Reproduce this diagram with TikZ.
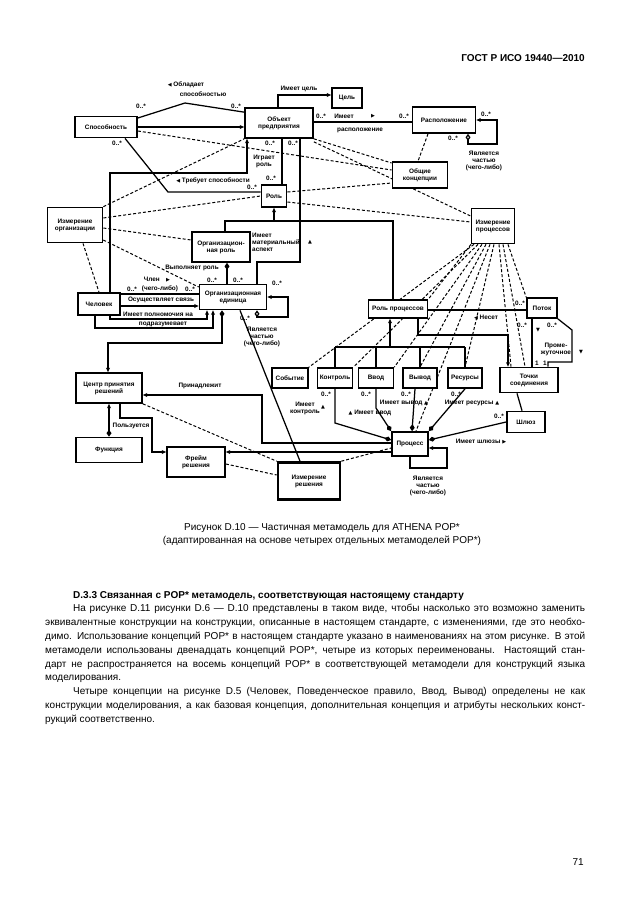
\documentclass[tikz,border=0pt]{standalone}
\usepackage{fontspec}
\setmainfont{Liberation Sans}
\newfontfamily\symf{DejaVu Sans}
\usetikzlibrary{arrows.meta}
\pgfdeclarelayer{bg}
\pgfsetlayers{bg,main}

\newcommand\dfont{\fontsize{6.4}{7}\selectfont\bfseries}
\newcommand\bodyfont{\fontsize{10}{12}\selectfont}
\newcommand\dirL{{\symf\fontsize{5}{5}\selectfont ◀}}
\newcommand\dirR{{\symf\fontsize{5}{5}\selectfont ▶}}
\newcommand\dirU{{\symf\fontsize{5}{5}\selectfont ▲}}
\newcommand\dirD{{\symf\fontsize{5}{5}\selectfont ▼}}
\newcommand\fullline[2]{\makebox[#1][s]{#2}}

\tikzset{
  cls/.style={draw, line width=1.7pt, fill=white, align=center, inner sep=1pt, font=\dfont},
  ln/.style={line width=1.25pt},
  dl/.style={line width=1pt, dash pattern=on 3pt off 2pt},
  lbl/.style={font=\dfont, inner sep=0pt, align=center},
  txt/.style={font=\bodyfont, inner sep=0pt},
  >={Stealth[length=4.5pt,width=4pt]},
  dm/.tip={Diamond[length=7pt,width=5pt]},
  odm/.tip={Diamond[length=7pt,width=5pt,fill=white]}
}

\begin{document}
\begin{tikzpicture}[x=1pt,y=-1pt]
\useasboundingbox (0,0) rectangle (630,913);

\node[anchor=base east,inner sep=0pt,font=\bfseries\fontsize{10}{12}\selectfont] (head) at (585,61) {ГОСТ Р ИСО 19440—2010};

% classes
\node[cls,minimum width=62pt,minimum height=21pt] (cap) at (106,127) {Способность};
\node[cls,minimum width=68pt,minimum height=30pt] (obj) at (279,123) {Объект\\предприятия};
\node[cls,minimum width=30pt,minimum height=20pt] (goal) at (347,98) {Цель};
\node[cls,minimum width=63pt,minimum height=26pt] (loc) at (444,120) {Расположение};
\node[cls,minimum width=55pt,minimum height=26pt] (gen) at (420,175) {Общие\\концепции};
\node[cls,minimum width=25pt,minimum height=22pt] (role) at (274,196) {Роль};
\node[cls,minimum width=55pt,minimum height=35pt] (orgdim) at (75,225) {Измерение\\организации};
\node[cls,minimum width=58pt,minimum height=30pt] (orgrole) at (221,247) {Организацион-\\ная роль};
\node[cls,minimum width=67pt,minimum height=25pt] (orgunit) at (233,297) {Организационная\\единица};
\node[cls,minimum width=42pt,minimum height=22pt] (person) at (99,304) {Человек};
\node[cls,minimum width=43pt,minimum height=35pt] (procdim) at (493,226) {Измерение\\процессов};
\node[cls,minimum width=59pt,minimum height=18pt] (prole) at (398,309) {Роль процессов};
\node[cls,minimum width=30pt,minimum height=20pt] (flow) at (542,308) {Поток};
\node[cls,minimum width=66pt,minimum height=30pt] (dmc) at (109,388) {Центр принятия\\решений};
\node[cls,minimum width=66pt,minimum height=25pt] (func) at (109,450) {Функция};
\node[cls,minimum width=58pt,minimum height=30pt] (frame) at (196,462) {Фрейм\\решения};
\node[cls,line width=2.6pt,minimum width=62pt,minimum height=37pt] (decdim) at (309,481) {Измерение\\решения};
\node[cls,minimum width=36pt,minimum height=20pt] (event) at (290,378) {Событие};
\node[cls,minimum width=35pt,minimum height=20pt] (ctrl) at (335,378) {Контроль};
\node[cls,minimum width=35pt,minimum height=20pt] (inp) at (376,378) {Ввод};
\node[cls,minimum width=34pt,minimum height=20pt] (outp) at (420,378) {Вывод};
\node[cls,minimum width=34pt,minimum height=20pt] (res) at (465,378) {Ресурсы};
\node[cls,minimum width=58pt,minimum height=25pt] (conn) at (529,380) {Точки\\соединения};
\node[cls,minimum width=38pt,minimum height=21pt] (port) at (526,422) {Шлюз};
\node[cls,minimum width=36pt,minimum height=24pt] (proc) at (410,444) {Процесс};

\begin{pgfonlayer}{bg}
\fill[white] (0,0) rectangle (630,913);
% enterprise object
\coordinate (capk) at (185,103);
\draw[ln] ([yshift=9pt]cap.east) -- (capk) -- ([yshift=-5pt]obj.north west);
\draw[ln,->] (cap.east) -- (obj.west |- cap.east);
\draw[dl] ([yshift=-4pt]cap.east) -- ([yshift=5pt]gen.west);
\draw[dl] (orgdim.north east) -- (obj.south west);
\coordinate (reqk) at (168,192);
\draw[ln] ([xshift=19pt]cap.south) -- (reqk) -- (role.west |- reqk);
\coordinate (gc) at (278,95);
\draw[ln,->] (obj.north -| gc) -- (gc) -- (goal.west |- gc);
\coordinate (lc) at (360,122);
\draw[ln] (obj.east |- lc) -- (loc.west |- lc);
\coordinate (ll1) at (497,120);
\coordinate (ll2) at (497,144);
\coordinate (ll3) at (468,144);
\draw[ln,<-odm] (loc.east |- ll1) -- (ll1) -- (ll2) -- (ll3) -- (loc.south -| ll3);
\draw[dl] ([xshift=-16pt]loc.south) -- ([xshift=-2pt]gen.north);
\draw[dl] (obj.south east) -- ([yshift=12pt]gen.west);
\draw[dl] ([yshift=-3pt]obj.south east) -- ([yshift=10pt]procdim.west);
\draw[dl] ([yshift=4pt]role.east) -- ([yshift=-8pt]gen.west);
\draw[dl] ([yshift=-6pt]role.east) -- ([yshift=4pt]procdim.west);

% organisation
\draw[dl] ([yshift=7pt]orgdim.east) -- (role.west);
\draw[dl] ([yshift=-3pt]orgdim.east) -- ([yshift=7pt]orgrole.west);
\draw[dl] ([yshift=-15pt]orgdim.east) -- ([yshift=10pt]orgunit.west);
\draw[dl] ([xshift=8pt]orgdim.south) -- (person.north);
\coordinate (ra) at (247,173);
\coordinate (rb) at (110,173);
\coordinate (rc) at (110,319);
\coordinate (rd) at (207,319);
\draw[ln,<->] (obj.south -| ra) -- (ra) -- (rb) -- (rc) -- (rd) -- (orgunit.south -| rd);
\coordinate (pa) at (95,328);
\coordinate (pb) at (213,328);
\draw[ln,->] (person.south -| pa) -- (pa) -- (pb) -- (orgunit.south -| pb);
\coordinate (m1) at (160,294);
\coordinate (m2) at (160,306);
\draw[ln] (person.east |- m1) -- (orgunit.west |- m1);
\draw[ln,->] (person.east |- m2) -- (orgunit.west |- m2);

% roles
\coordinate (rp) at (282,160);
\draw[ln] (obj.south -| rp) -- (role.north -| rp);
\coordinate (rt) at (274,221);
\coordinate (tl) at (225,221);
\coordinate (tr) at (393,221);
\draw[ln,<-] (role.south) -- (rt);
\draw[ln] (orgrole.north -| tl) -- (tl) -- (tr) -- (prole.north -| tr);
\coordinate (ma) at (257,262);
\coordinate (mb) at (300,262);
\draw[ln] (orgunit.north -| ma) -- (ma) -- (mb) -- (obj.south -| mb);
\coordinate (ou) at (227,270);
\draw[ln,dm-] (orgrole.south -| ou) -- (orgunit.north -| ou);
\coordinate (os1) at (288,297);
\coordinate (os2) at (288,317);
\coordinate (os3) at (257,317);
\draw[ln,<-odm] (orgunit.east) -- (os1) -- (os2) -- (os3) -- (orgunit.south -| os3);

% decision
\coordinate (dk1) at (222,343);
\coordinate (dk2) at (108,343);
\draw[ln,dm->] (orgunit.south -| dk1) -- (dk1) -- (dk2) -- (dmc.north -| dk2);
\draw[ln] ([xshift=7pt]orgunit.south) -- ([xshift=-9pt]decdim.north);
\draw[ln,<-dm] (dmc.south) -- (func.north);
\coordinate (uf1) at (120,418);
\coordinate (uf2) at (152,418);
\coordinate (uf3) at (152,452);
\draw[ln,->] (dmc.south -| uf1) -- (uf1) -- (uf2) -- (uf3) -- (frame.west |- uf3);
\coordinate (bl1) at (262,395);
\coordinate (bl2) at (262,443);
\draw[ln,<-] (dmc.east |- bl1) -- (bl1) -- (bl2) -- (proc.west |- bl2);
\coordinate (fp) at (300,452);
\draw[ln,<-] (frame.east |- fp) -- (proc.west |- fp);
\draw[dl] (dmc.south east) -- (decdim.north west);
\draw[dl] ([yshift=-2pt]frame.east) -- ([yshift=6pt]decdim.west);
\draw[dl] (decdim.north east) -- ([yshift=-4pt]proc.west);

% process dimension
\coordinate (pn) at ([xshift=6pt]proc.north);
\coordinate (cw) at ([xshift=-18pt]conn.north);
\coordinate (ce) at ([xshift=-4pt]conn.north);
\foreach \dx/\tg in {-22/prole.north east, -19/event.north east, -15/ctrl.north east,
    -11/inp.north east, -7/outp.north, -3/pn, 1/res.north, 6/cw, 10/ce, 15/flow.north west}
  \draw[dl] ([xshift=\dx pt]procdim.south) -- (\tg);

% flow
\coordinate (fl) at (480,310);
\draw[ln] (prole.east |- fl) -- (flow.west |- fl);
\coordinate (fa) at (532,340);
\draw[ln] (flow.south -| fa) -- (conn.north -| fa);
\coordinate (fc1) at (572,330);
\coordinate (fc2) at (572,362);
\coordinate (fc3) at (548,362);
\draw[ln] (flow.south east) -- (fc1) -- (fc2) -- (fc3) -- (conn.north -| fc3);

% process roles
\coordinate (th) at (390,347);
\draw[ln,<-] (prole.south -| th) -- (th);
\draw[ln] (ctrl.north |- th) -- (res.north |- th);
\foreach \n in {ctrl,inp,outp,res}
  \draw[ln] (\n.north |- th) -- (\n.north);
\coordinate (tk1) at (418,335);
\coordinate (tk2) at (508,335);
\draw[ln,->] (prole.south -| tk1) -- (tk1) -- (tk2) -- (conn.north -| tk2);

% process
\coordinate (ck) at (335,423);
\draw[ln,-dm] (ctrl.south) -- (ck) -- ([yshift=4pt]proc.west);
\coordinate (ik) at (376,408);
\draw[ln,-dm] (inp.south) -- (ik) -- (proc.north west);
\draw[ln,-dm] ([xshift=-5pt]outp.south) -- ([xshift=2pt]proc.north);
\draw[ln,-dm] (res.south) -- (proc.north east);
\draw[ln,-dm] (port.west) -- ([yshift=4pt]proc.east);
\draw[ln] ([xshift=-12pt]conn.south) -- ([xshift=-4pt]port.north);
\coordinate (pl1) at (447,448);
\coordinate (pl2) at (447,468);
\coordinate (pl3) at (410,468);
\draw[ln,<-] ([yshift=-4pt]proc.east) -- (pl1) -- (pl2) -- (pl3) -- (proc.south -| pl3);
\end{pgfonlayer}

% labels
\node[lbl] (l1) at (186,85) {\dirL\ Обладает};
\node[lbl] (l2) at (203,94) {способностью};
\node[lbl] (l3) at (141,106) {0..*};
\node[lbl] (l4) at (236,106) {0..*};
\node[lbl] (l5) at (117,143) {0..*};
\node[lbl] (l6) at (213,181) {\dirL\ Требует способности};
\node[lbl] (l7) at (252,187) {0..*};
\node[lbl] (l8) at (299,89) {Имеет цель};
\node[lbl] (l9) at (321,116) {0..*};
\node[lbl] (l10) at (344,116) {Имеет};
\node[lbl] (l11) at (373,116) {\dirR};
\node[lbl] (l12) at (360,130) {расположение};
\node[lbl] (l13) at (404,116) {0..*};
\node[lbl] (l14) at (486,114) {0..*};
\node[lbl] (l15) at (453,138) {0..*};
\node[lbl] (l16) at (484,161) {Является\\частью\\(чего-либо)};
\node[lbl] (l17) at (270,143) {0..*};
\node[lbl] (l18) at (293,143) {0..*};
\node[lbl] (l19) at (264,161) {Играет\\роль};
\node[lbl] (l20) at (271,178) {0..*};
\node[lbl,align=left] (l21) at (276,242) {Имеет\\материальный\\аспект};
\node[lbl] (l22) at (310,242) {\dirU};
\node[lbl] (l23) at (192,268) {Выполняет роль};
\node[lbl] (l24) at (212,280) {0..*};
\node[lbl] (l25) at (238,280) {0..*};
\node[lbl] (l26) at (277,283) {0..*};
\node[lbl] (l27) at (157,280) {Член\quad\dirR};
\node[lbl] (l28) at (132,289) {0..*};
\node[lbl] (l29) at (160,289) {(чего-либо)};
\node[lbl] (l30) at (190,289) {0..*};
\node[lbl] (l31) at (161,300) {Осуществляет связь};
\node[lbl] (l32) at (158,314) {Имеет полномочия на};
\node[lbl] (l33) at (163,324) {подразумевает};
\node[lbl] (l34) at (245,318) {0..*};
\node[lbl] (l35) at (262,337) {Является\\частью\\(чего-либо)};
\node[lbl] (l36) at (200,386) {Принадлежит};
\node[lbl] (l37) at (131,426) {Пользуется};
\node[lbl] (l38) at (326,394) {0..*};
\node[lbl] (l39) at (305,408) {Имеет\\контроль};
\node[lbl] (l40) at (323,407) {\dirU};
\node[lbl] (l41) at (366,394) {0..*};
\node[lbl] (l42) at (370,413) {\dirU\ Имеет ввод};
\node[lbl] (l43) at (406,394) {0..*};
\node[lbl] (l44) at (404,403) {Имеет вывод \dirU};
\node[lbl] (l45) at (456,394) {0..*};
\node[lbl] (l46) at (472,403) {Имеет ресурсы \dirU};
\node[lbl] (l47) at (499,416) {0..*};
\node[lbl] (l48) at (481,442) {Имеет шлюзы \dirR};
\node[lbl] (l49) at (428,486) {Является\\частью\\(чего-либо)};
\node[lbl] (l50) at (520,303) {0..*};
\node[lbl] (l51) at (486,318) {\dirL\ Несет};
\node[lbl] (l52) at (522,325) {0..*};
\node[lbl] (l53) at (538,330) {\dirD};
\node[lbl] (l54) at (552,325) {0..*};
\node[lbl] (l55) at (556,349) {Проме-\\жуточное};
\node[lbl] (l56) at (581,352) {\dirD};
\node[lbl] (l57) at (537,363) {1};
\node[lbl] (l58) at (545,363) {1};

% caption
\node[txt] (cap1) at (322,528) {Рисунок D.10 — Частичная метамодель для ATHENA POP*};
\node[txt] (cap2) at (322,541) {(адаптированная на основе четырех отдельных метамоделей POP*)};

% text
\node[txt,anchor=base west] (t1) at (73,598) {\bfseries D.3.3 Связанная с POP* метамодель, соответствующая настоящему стандарту};
\node[txt,anchor=base west] (t2) at (73,611.8) {\fullline{512pt}{На рисунке D.11 рисунки D.6 — D.10 представлены в таком виде, чтобы насколько это возможно заменить}};
\node[txt,anchor=base west] (t3) at (45,625.6) {\fullline{540pt}{эквивалентные конструкции на конструкции, описанные в настоящем стандарте, с изменениями, где это необхо-}};
\node[txt,anchor=base west] (t4) at (45,639.4) {\fullline{540pt}{димо. Использование концепций POP* в настоящем стандарте указано в наименованиях на этом рисунке. В этой}};
\node[txt,anchor=base west] (t5) at (45,653.2) {\fullline{540pt}{метамодели использованы двенадцать концепций POP*, четыре из которых переименованы. Настоящий стан-}};
\node[txt,anchor=base west] (t6) at (45,667) {\fullline{540pt}{дарт не распространяется на восемь концепций POP* в соответствующей метамодели для конструкций языка}};
\node[txt,anchor=base west] (t7) at (45,680.8) {моделирования.};
\node[txt,anchor=base west] (t8) at (73,694.6) {\fullline{512pt}{Четыре концепции на рисунке D.5 (Человек, Поведенческое правило, Ввод, Вывод) определены не как}};
\node[txt,anchor=base west] (t9) at (45,708.4) {\fullline{540pt}{конструкции моделирования, а как базовая концепция, дополнительная концепция и атрибуты нескольких конст-}};
\node[txt,anchor=base west] (t10) at (45,722.2) {рукций соответственно.};

\node[txt,anchor=base east] (pg) at (584,865) {71};
\end{tikzpicture}
\end{document}
